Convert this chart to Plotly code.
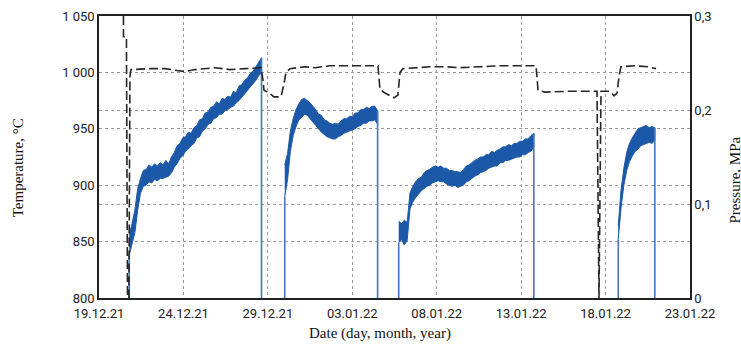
import pandas as pd
import plotly.graph_objects as go

# ---------------- data ----------------
sample_step = "4h"
seg_starts = ["2021-12-20 19:00", "2021-12-30 00:00", "2022-01-05 18:00", "2022-01-18 18:00"]
temp_floor = 800

# upper / lower edge of the noisy temperature band, °C
temp_hi1 = [856, 866, 878, 897, 906, 913, 914, 918, 916, 919, 917, 920, 918, 922, 919, 925,
            929, 935, 937, 942, 943, 947, 946, 951, 953, 958, 959, 964, 965, 969, 970, 974,
            972, 977, 976, 979, 978, 983, 982, 988, 989, 993, 995, 999, 1001, 1005, 1009, 1013]
temp_lo1 = [838, 848, 858, 878, 893, 899, 900, 903, 902, 905, 904, 906, 906, 907, 908, 911,
            916, 919, 924, 926, 930, 932, 935, 937, 942, 943, 948, 950, 954, 955, 959, 960,
            963, 963, 966, 967, 969, 970, 973, 975, 978, 981, 984, 987, 990, 993, 997, 1000]
temp_hi2 = [918, 928, 948, 959, 967, 972, 976, 977, 975, 973, 970, 967, 963, 962, 958, 957,
            955, 954, 955, 954, 957, 959, 959, 961, 961, 964, 964, 967, 967, 969, 968, 970, 970, 966]
temp_lo2 = [890, 905, 930, 944, 952, 958, 960, 963, 962, 959, 956, 953, 950, 947, 945, 943,
            942, 941, 941, 943, 944, 946, 947, 948, 949, 950, 952, 953, 955, 955, 957, 957, 958, 954]
temp_hi3 = [868, 866, 869, 867, 893, 899, 903, 906, 907, 911, 913, 914, 916, 917, 916, 917,
            915, 915, 913, 913, 912, 912, 911, 914, 917, 918, 920, 922, 923, 925, 925, 927,
            927, 930, 929, 931, 932, 934, 934, 936, 935, 937, 937, 939, 939, 941, 941, 944, 946]
temp_lo3 = [849, 852, 847, 851, 879, 885, 889, 892, 895, 897, 899, 900, 902, 903, 904, 903,
            903, 901, 900, 899, 900, 898, 899, 900, 903, 904, 906, 908, 909, 911, 912, 913,
            915, 916, 917, 917, 920, 920, 922, 922, 923, 924, 925, 925, 927, 927, 929, 930, 934]
temp_hi4 = [864, 896, 915, 929, 937, 942, 946, 950, 951, 952, 953, 951, 952, 951]
temp_lo4 = [852, 880, 900, 913, 921, 926, 930, 932, 935, 936, 937, 938, 937, 940]
temp_hi = [temp_hi1, temp_hi2, temp_hi3, temp_hi4]
temp_lo = [temp_lo1, temp_lo2, temp_lo3, temp_lo4]

pressure_time = ["2021-12-20 10:45", "2021-12-20 10:46", "2021-12-20 15:00", "2021-12-20 16:30",
                 "2021-12-20 18:30", "2021-12-20 20:00", "2021-12-20 21:30", "2021-12-22 00:30",
                 "2021-12-22 21:50", "2021-12-23 14:50", "2021-12-24 02:10", "2021-12-24 16:30",
                 "2021-12-25 20:50", "2021-12-26 18:10", "2021-12-27 15:30", "2021-12-28 14:10",
                 "2021-12-28 17:00", "2021-12-28 18:30", "2021-12-29 00:00", "2021-12-29 08:40",
                 "2021-12-29 18:40", "2021-12-29 23:00", "2021-12-30 01:40", "2021-12-30 07:30",
                 "2021-12-31 04:50", "2021-12-31 19:00", "2022-01-01 16:20", "2022-01-04 12:30",
                 "2022-01-04 15:20", "2022-01-04 22:30", "2022-01-05 11:20", "2022-01-05 16:50",
                 "2022-01-05 19:50", "2022-01-06 00:00", "2022-01-07 14:25", "2022-01-08 11:45",
                 "2022-01-09 09:05", "2022-01-10 13:30", "2022-01-11 18:00", "2022-01-13 21:10",
                 "2022-01-14 00:00", "2022-01-14 09:50", "2022-01-15 21:20", "2022-01-17 11:50",
                 "2022-01-17 14:40", "2022-01-17 17:30", "2022-01-18 06:20", "2022-01-18 12:00",
                 "2022-01-18 16:20", "2022-01-18 19:10", "2022-01-18 21:50", "2022-01-19 17:50",
                 "2022-01-20 12:15", "2022-01-20 23:45"]
pressure_mpa = [0.30, 0.278, 0.278, 0.0, 0.0, 0.236, 0.243, 0.244,
                0.244, 0.242, 0.241, 0.243, 0.245, 0.243, 0.244, 0.245,
                0.232, 0.221, 0.219, 0.214, 0.214, 0.228, 0.240, 0.244,
                0.246, 0.245, 0.247, 0.247, 0.222, 0.218, 0.213, 0.216,
                0.240, 0.244, 0.246, 0.246, 0.245, 0.246, 0.247, 0.247,
                0.221, 0.219, 0.220, 0.220, 0.0, 0.220, 0.220, 0.215,
                0.218, 0.236, 0.246, 0.247, 0.246, 0.244]

x_range = ["2021-12-19", "2022-01-23"]
x_tick_vals = ["2021-12-19", "2021-12-24", "2021-12-29", "2022-01-03", "2022-01-08",
               "2022-01-13", "2022-01-18", "2022-01-23"]
x_tick_text = ["19.12.21", "24.12.21", "29.12.21", "03.01.22", "08.01.22", "13.01.22",
               "18.01.22", "23.01.22"]
t_tick_vals = [800, 850, 900, 950, 1000, 1050]
t_tick_text = ["800", "850", "900", "950", "1 000", "1 050"]
p_tick_vals = [0, 0.1, 0.2, 0.3]
p_tick_text = ["0", "0,1", "0,2", "0,3"]

BLUE = "#1c58a8"
tick_font = dict(family="Liberation Sans Narrow, Roboto, Arial Narrow, sans-serif", size=13, color="#222")
title_font = dict(family="Liberation Serif, Times New Roman, serif", size=15, color="#111")
grid_col = "#999999"

fig = go.Figure()

# ------------- temperature: on/off edges + noisy band -------------
edge_x, edge_y = [], []
for start, hi, lo in zip(seg_starts, temp_hi, temp_lo):
    times = list(pd.date_range(start, periods=len(hi), freq=sample_step))
    edge_x += [times[0], times[0], None, times[-1], times[-1], None]
    edge_y += [temp_floor, lo[0], None, hi[-1], temp_floor, None]
    fig.add_trace(go.Scatter(x=times + times[::-1], y=hi + lo[::-1], mode="lines",
                             fill="toself", fillcolor=BLUE, yaxis="y",
                             line=dict(color=BLUE, width=1, simplify=False),
                             showlegend=False, hoverinfo="skip"))
fig.add_trace(go.Scatter(x=edge_x, y=edge_y, mode="lines", yaxis="y",
                         line=dict(color="#4378bc", width=1.6), connectgaps=False,
                         showlegend=False, hoverinfo="skip"))

# ------------- pressure -------------
fig.add_trace(go.Scatter(x=pd.to_datetime(pressure_time), y=pressure_mpa, mode="lines", yaxis="y2",
                         line=dict(color="#262626", width=1.6, dash="9px,4px", simplify=False),
                         showlegend=False, hoverinfo="skip"))

fig.update_layout(
    width=741, height=344,
    margin=dict(l=99, r=51, t=16, b=46, autoexpand=False),
    paper_bgcolor="white", plot_bgcolor="white",
    xaxis=dict(range=x_range, tickmode="array", tickvals=x_tick_vals, ticktext=x_tick_text,
               showgrid=True, gridcolor=grid_col, griddash="dot", gridwidth=1,
               showline=True, linecolor="#222", linewidth=1.5, mirror=True,
               ticks="", tickfont=tick_font, zeroline=False, automargin=False,
               ticklabelstandoff=3),
    yaxis=dict(range=[800, 1050], tickmode="array", tickvals=t_tick_vals, ticktext=t_tick_text,
               showgrid=True, gridcolor=grid_col, griddash="dot", gridwidth=1,
               showline=True, linecolor="#222", linewidth=1.5,
               ticks="", tickfont=tick_font, zeroline=False, automargin=False),
    yaxis2=dict(range=[0, 0.3], overlaying="y", side="right", tickmode="array",
                tickvals=p_tick_vals, ticktext=p_tick_text,
                showgrid=True, gridcolor=grid_col, griddash="dot", gridwidth=1,
                showline=True, linecolor="#222", linewidth=1.5,
                ticks="", tickfont=tick_font, zeroline=False, automargin=False),
    annotations=[
        dict(text="Temperature, °C", xref="paper", yref="paper", x=-0.137, y=0.46,
             textangle=-90, showarrow=False, font=title_font, xanchor="center", yanchor="middle"),
        dict(text="Pressure, MPa", xref="paper", yref="paper", x=1.076, y=0.42,
             textangle=-90, showarrow=False, font=title_font, xanchor="center", yanchor="middle"),
        dict(text="Date (day, month, year)", xref="paper", yref="paper", x=0.475, y=-0.125,
             showarrow=False, font=title_font, xanchor="center", yanchor="middle"),
    ],
)

fig.write_html("out.html", config={"displayModeBar": False},
               post_script="document.body.style.margin='0px';")
